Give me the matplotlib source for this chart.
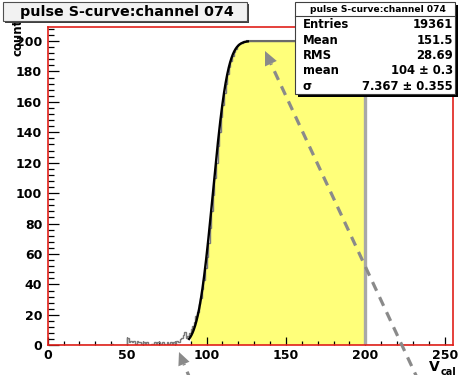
import math
import numpy as np
import matplotlib
matplotlib.use("Agg")
import matplotlib.pyplot as plt
from matplotlib.patches import Rectangle, Polygon
from matplotlib.lines import Line2D
from matplotlib.ticker import MultipleLocator

# ---- histogram data: 1-unit bins from 0 to 255 ----
n_bins = 255
noise_first_bin = 38
noise_counts = [0, 0, 1, 0, 0, 0, 0, 0, 0, 0, 0, 0,
                5, 2, 3, 2, 3, 1, 3, 2, 2, 1,
                2, 1, 2, 0, 0, 1, 0, 2, 1, 2,
                2, 1, 2, 1, 0, 2, 1, 2, 1, 2,
                1, 3, 2, 4, 5, 7, 9, 5, 6]
rise_first_bin = 89
rise_counts = [8, 11, 13, 15, 19, 22, 27, 31, 37, 43, 51,
               58, 67, 77, 88, 99, 110, 120, 131, 140, 150,
               158, 166, 172, 178, 183, 187, 190, 193, 195, 197,
               198, 199, 199, 200, 200]
plateau_first_bin = 125
plateau_counts = [200] * 75          # bins 125..199
fill_first_bin = 90
fill_last_edge = 200

# ---- fit result (error function S-curve) ----
fit_plateau = 200.0
fit_mean = 104.0
fit_sigma = 7.367
fit_range = (89.0, 126.0)

# ---- labels ----
title_text = "pulse S-curve:channel 074"
stat_names = ["Entries", "Mean", "RMS", "mean", "\u03c3"]
stat_values = ["19361", "151.5", "28.69", "104 \u00b1 0.3", "7.367 \u00b1 0.355"]
x_ticks = [0, 50, 100, 150, 200, 250]
y_ticks = [0, 20, 40, 60, 80, 100, 120, 140, 160, 180, 200]

counts = np.zeros(n_bins)
counts[noise_first_bin:noise_first_bin + len(noise_counts)] = noise_counts
counts[rise_first_bin:rise_first_bin + len(rise_counts)] = rise_counts
counts[plateau_first_bin:plateau_first_bin + len(plateau_counts)] = plateau_counts
edges = np.arange(n_bins + 1)

W, H = 471, 375
fig = plt.figure(figsize=(W / 100, H / 100), dpi=100)
fig.patch.set_facecolor("white")


def fx(px):
    return px / W


def fy(py):
    return 1 - py / H


ax = fig.add_axes([fx(47.7), fy(345.3), (452.7 - 47.7) / W, (345.3 - 27) / H])
ax.set_xlim(0, 255)
ax.set_ylim(0, 209.2)

# yellow filled part of the histogram
ax.stairs(counts[fill_first_bin:fill_last_edge], edges[fill_first_bin:fill_last_edge + 1],
          fill=True, color="#ffff7a", zorder=1)
# histogram outline
ax.stairs(counts, edges, color="#7a7a7a", lw=1.0, zorder=2)
ax.hlines(fit_plateau, plateau_first_bin, fill_last_edge, color="#6a6a6a", lw=1.5, zorder=2)
ax.vlines(fill_last_edge, 0, counts[fill_last_edge - 1], color="#a8a8a8", lw=2.4, zorder=2)

# fitted S-curve
xf = np.linspace(fit_range[0], fit_range[1], 300)
yf = np.array([fit_plateau * 0.5 * (1 + math.erf((v - fit_mean) / (math.sqrt(2) * fit_sigma)))
               for v in xf])
ax.plot(xf, yf, color="black", lw=1.7, zorder=3)

for s in ax.spines.values():
    s.set_color("#e0201a")
    s.set_linewidth(1.2)
    s.set_zorder(4)

ax.set_xticks(x_ticks)
ax.set_yticks(y_ticks)
ax.xaxis.set_minor_locator(MultipleLocator(10))
ax.yaxis.set_minor_locator(MultipleLocator(4))
tick_font = dict(family="DejaVu Sans", weight="bold", size=9)
ax.set_xticklabels([str(t) for t in x_ticks], **tick_font)
ax.set_yticklabels([str(t) for t in y_ticks], **tick_font)
ax.tick_params(axis="x", which="major", direction="in", length=5.8, width=0.9, pad=2.5)
ax.tick_params(axis="x", which="minor", direction="in", length=3.2, width=0.9)
ax.tick_params(axis="y", which="major", direction="in", length=8.0, width=0.9, pad=4)
ax.tick_params(axis="y", which="minor", direction="in", length=4.2, width=0.9)

# axis titles
fig.text(fx(18.5), fy(56), "counts", rotation=90, ha="center", va="bottom",
         family="DejaVu Sans", weight="bold", size=8.5, zorder=1)
fig.text(fx(429), fy(374), "V", ha="left", va="bottom",
         family="DejaVu Sans", weight="bold", size=10, zorder=1)
fig.text(fx(441), fy(377), "cal", ha="left", va="bottom",
         family="DejaVu Sans", weight="bold", size=7, zorder=1)

# title box
fig.patches.append(Rectangle((fx(5), fy(23)), (249 - 5) / W, (23 - 4) / H,
                             transform=fig.transFigure, facecolor="#404040",
                             edgecolor="none", zorder=3))
fig.patches.append(Rectangle((fx(3), fy(21)), (247 - 3) / W, (21 - 2) / H,
                             transform=fig.transFigure, facecolor="#f2f2f2",
                             edgecolor="#505050", lw=0.8, zorder=3.1))
fig.text(fx(126.5), fy(11.8), title_text, ha="center", va="center",
         family="DejaVu Sans", weight="bold", size=10.3, zorder=3.2)

# statistics box
fig.patches.append(Rectangle((fx(298), fy(97)), (458 - 298) / W, (97 - 5) / H,
                             transform=fig.transFigure, facecolor="black",
                             edgecolor="none", zorder=5))
fig.patches.append(Rectangle((fx(295), fy(94)), (455 - 295) / W, (94 - 2) / H,
                             transform=fig.transFigure, facecolor="white",
                             edgecolor="#404040", lw=0.8, zorder=5.1))
fig.lines.append(Line2D([fx(295), fx(455)], [fy(15.5), fy(15.5)],
                        transform=fig.transFigure, color="#404040", lw=0.8, zorder=5.2))
fig.text(fx(378), fy(9), title_text, ha="center", va="center",
         family="DejaVu Sans", weight="bold", size=6.6, zorder=5.3)
row_y = [25, 41, 55.5, 70.5, 86.5]
for name, val, yy in zip(stat_names, stat_values, row_y):
    fig.text(fx(302.5), fy(yy), name, ha="left", va="center",
             family="DejaVu Sans", weight="bold", size=8.4, zorder=5.3)
    fig.text(fx(453), fy(yy), val, ha="right", va="center",
             family="DejaVu Sans", weight="bold", size=8.4, zorder=5.3)


# gray dashed pointer arrows
def pointer(tip, tail, head_len=14, half_w=6.5):
    tx, ty = tip
    dx, dy = tail[0] - tx, tail[1] - ty
    n = math.hypot(dx, dy)
    ux, uy = dx / n, dy / n
    bx, by = tx + head_len * ux, ty + head_len * uy
    px_, py_ = -uy, ux
    head = [(fx(tx), fy(ty)),
            (fx(bx + half_w * px_), fy(by + half_w * py_)),
            (fx(bx - half_w * px_), fy(by - half_w * py_))]
    fig.patches.append(Polygon(head, closed=True, transform=fig.transFigure,
                               facecolor="#8a8a8a", edgecolor="none", zorder=7))
    fig.lines.append(Line2D([fx(bx), fx(tail[0])], [fy(by), fy(tail[1])],
                            transform=fig.transFigure, color="#8a8a8a", lw=2.3,
                            linestyle=(2.6, (3.0, 2.2)), solid_capstyle="butt",
                            dash_capstyle="butt", zorder=7))


pointer((265, 51), (420, 384))
pointer((179, 352), (193, 386), head_len=13, half_w=6)

fig.savefig("out.png", dpi=100)
